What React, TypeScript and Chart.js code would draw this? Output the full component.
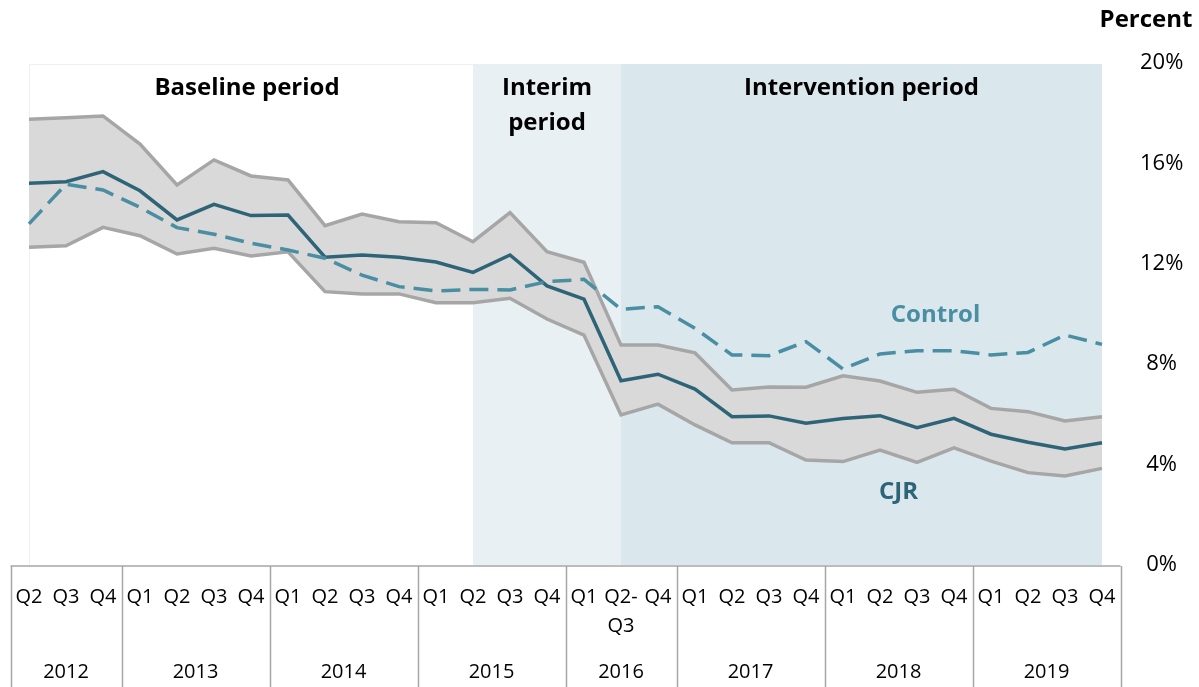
import React, { useEffect, useRef } from "react";
import { Chart, registerables } from "chart.js";

Chart.register(...registerables);

// ---- Data ----
const quarterLabels = ["Q2","Q3","Q4","Q1","Q2","Q3","Q4","Q1","Q2","Q3","Q4","Q1","Q2","Q3","Q4","Q1","Q2-\nQ3","Q4","Q1","Q2","Q3","Q4","Q1","Q2","Q3","Q4","Q1","Q2","Q3","Q4"];
const years = ["2012","2013","2014","2015","2016","2017","2018","2019"];
const quartersPerYear = [3, 4, 4, 4, 3, 4, 4, 4];

const cjr = [15.21, 15.27, 15.67, 14.91, 13.75, 14.37, 13.92, 13.94, 12.26, 12.35, 12.26, 12.07, 11.66, 12.35, 11.12, 10.59, 7.34, 7.60, 7.01, 5.91, 5.94, 5.65, 5.84, 5.95, 5.47, 5.84, 5.21, 4.89, 4.62, 4.87];
const control = [13.59, 15.17, 14.94, 14.25, 13.44, 13.18, 12.82, 12.55, 12.22, 11.55, 11.09, 10.92, 10.98, 10.96, 11.29, 11.38, 10.19, 10.29, 9.43, 8.37, 8.34, 8.90, 7.81, 8.41, 8.54, 8.54, 8.37, 8.47, 9.16, 8.79];
const cjrUpper = [17.76, 17.82, 17.89, 16.77, 15.14, 16.14, 15.50, 15.34, 13.52, 13.98, 13.68, 13.64, 12.88, 14.04, 12.48, 12.06, 8.76, 8.76, 8.45, 6.97, 7.09, 7.08, 7.54, 7.33, 6.88, 7.00, 6.24, 6.11, 5.74, 5.91];
const cjrLower = [12.66, 12.72, 13.45, 13.12, 12.39, 12.62, 12.31, 12.48, 10.89, 10.80, 10.80, 10.45, 10.45, 10.63, 9.80, 9.16, 5.98, 6.41, 5.58, 4.87, 4.87, 4.18, 4.12, 4.58, 4.09, 4.67, 4.14, 3.68, 3.55, 3.85];

const yTicks = [0, 4, 8, 12, 16, 20];

// periods: start/end category index
const periodNames = [["Baseline period"], ["Interim", "period"], ["Intervention period"]];
const periodStart = [0, 12, 16];
const periodEnd = [12, 16, 29];

const seriesNames = ["Control", "CJR"];
// label anchor [category index, value]
const seriesLabelIndex = [24.5, 23.5];
const seriesLabelValue = [9.96, 2.9];

const FONT = "'Open Sans', Lato, sans-serif";

export default function App() {
  const ref = useRef<HTMLCanvasElement | null>(null);

  useEffect(() => {
    const canvas = ref.current;
    if (!canvas) return;

    const catLabels: string[] = [];
    let k = 0;
    years.forEach((y, yi) => {
      for (let q = 0; q < quartersPerYear[yi]; q++) {
        catLabels.push(y + " " + quarterLabels[k]);
        k++;
      }
    });

    const xPix = (chart: any, idx: number) => {
      const xs = chart.scales.x;
      const p0 = xs.getPixelForValue(0);
      const p1 = xs.getPixelForValue(1);
      return p0 + (p1 - p0) * idx;
    };

    const decor = {
      id: "decor",
      beforeDraw(chart: any) {
        const ctx = chart.ctx;
        const ca = chart.chartArea;
        const top = ca.top + 1;
        const bottom = ca.bottom;
        const fills = ["#ffffff", "#e8f0f4", "#dae7ed"];
        ctx.save();
        for (let i = 0; i < periodStart.length; i++) {
          const x0 = xPix(chart, periodStart[i]);
          const x1 = xPix(chart, periodEnd[i]);
          ctx.fillStyle = fills[i];
          ctx.fillRect(x0, top, x1 - x0, bottom - top);
          if (i === 0) {
            ctx.strokeStyle = "#f0f0f0";
            ctx.lineWidth = 1;
            ctx.beginPath();
            ctx.moveTo(x0 + 0.5, bottom);
            ctx.lineTo(x0 + 0.5, top + 0.5);
            ctx.lineTo(x1, top + 0.5);
            ctx.stroke();
          }
        }
        ctx.restore();
      },
      afterDraw(chart: any) {
        const ctx = chart.ctx;
        const ca = chart.chartArea;
        const ys = chart.scales.y;
        const step = xPix(chart, 1) - xPix(chart, 0);
        const n = quarterLabels.length;
        const left = xPix(chart, 0) - step / 2;
        const right = xPix(chart, n - 1) + step / 2;
        const tTop = ca.bottom + 1;
        const tBottom = chart.height;
        ctx.save();
        // table grid
        ctx.strokeStyle = "#a6a6a6";
        ctx.lineWidth = 1.5;
        ctx.beginPath();
        ctx.moveTo(left, tTop);
        ctx.lineTo(right, tTop);
        let idx = 0;
        const bounds = [0];
        quartersPerYear.forEach((c) => { idx += c; bounds.push(idx); });
        bounds.forEach((b) => {
          const x = Math.round(xPix(chart, b - 0.5)) + 0.5;
          ctx.moveTo(x, tTop);
          ctx.lineTo(x, tBottom);
        });
        ctx.stroke();

        // quarter labels
        ctx.fillStyle = "#000";
        ctx.font = "20px " + FONT;
        ctx.textAlign = "center";
        ctx.textBaseline = "middle";
        quarterLabels.forEach((q, i) => {
          const lines = q.split("\n");
          const x = xPix(chart, i);
          lines.forEach((ln, li) => {
            ctx.fillText(ln, x, tTop + 31 + li * 29);
          });
        });
        // year labels
        for (let i = 0; i < years.length; i++) {
          const a = bounds[i];
          const b = bounds[i + 1] - 1;
          const x = (xPix(chart, a) + xPix(chart, b)) / 2;
          ctx.fillText(years[i], x, tTop + 106);
        }

        // period labels
        ctx.font = "bold 24px " + FONT;
        for (let i = 0; i < periodNames.length; i++) {
          const x = (xPix(chart, periodStart[i]) + xPix(chart, periodEnd[i])) / 2 - (i === 0 ? 4 : 0);
          periodNames[i].forEach((ln, li) => {
            ctx.fillText(ln, x, ca.top + 25 + li * 35);
          });
        }

        // series labels
        const colors = ["#4a8ea3", "#2e6477"];
        for (let i = 0; i < seriesNames.length; i++) {
          ctx.fillStyle = colors[i];
          ctx.fillText(seriesNames[i], xPix(chart, seriesLabelIndex[i]), ys.getPixelForValue(seriesLabelValue[i]));
        }

        // axis title
        ctx.fillStyle = "#000";
        ctx.font = "bold 24px " + FONT;
        ctx.fillText("Percent", 1146, 20);
        ctx.restore();
      },
    };

    const chart = new Chart(canvas, {
      type: "line",
      data: {
        labels: catLabels,
        datasets: [
          {
            label: "Control",
            data: control,
            borderColor: "#4a8ea3",
            borderWidth: 3.5,
            borderDash: [19, 9],
            pointRadius: 0,
            fill: false,
            tension: 0,
          },
          {
            label: "CJR",
            data: cjr,
            borderColor: "#2e6477",
            borderWidth: 3.5,
            pointRadius: 0,
            fill: false,
            tension: 0,
          },
          {
            label: "CJR upper",
            data: cjrUpper,
            borderColor: "#a6a6a6",
            backgroundColor: "#d9d9d9",
            borderWidth: 3.5,
            pointRadius: 0,
            fill: "+1",
            tension: 0,
          },
          {
            label: "CJR lower",
            data: cjrLower,
            borderColor: "#a6a6a6",
            borderWidth: 3.5,
            pointRadius: 0,
            fill: false,
            tension: 0,
          },
        ],
      },
      options: {
        responsive: false,
        animation: false,
        devicePixelRatio: 1,
        layout: { padding: { left: 29, right: 0, top: 63, bottom: 122 } },
        plugins: {
          legend: { display: false },
          tooltip: { enabled: false },
          filler: { drawTime: "beforeDatasetsDraw" },
        },
        scales: {
          x: {
            type: "category",
            display: false,
            offset: false,
          },
          y: {
            position: "right",
            min: 0,
            max: 20,
            afterBuildTicks: (s: any) => { s.ticks = yTicks.map((v) => ({ value: v })); },
            afterFit: (s: any) => { s.width = 97; },
            grid: { display: false, drawTicks: false },
            border: { display: false },
            ticks: {
              padding: 38,
              crossAlign: "center",
              color: "#000",
              font: { family: FONT, size: 22 },
              callback: (v: any) => v + "%",
            },
          },
        },
      },
      plugins: [decor],
    } as any);

    return () => chart.destroy();
  }, []);

  return (
    <div style={{ position: "fixed", left: 0, top: 0, width: 1199, height: 687, background: "#fff" }}>
      <canvas ref={ref} width={1199} height={687} />
    </div>
  );
}
